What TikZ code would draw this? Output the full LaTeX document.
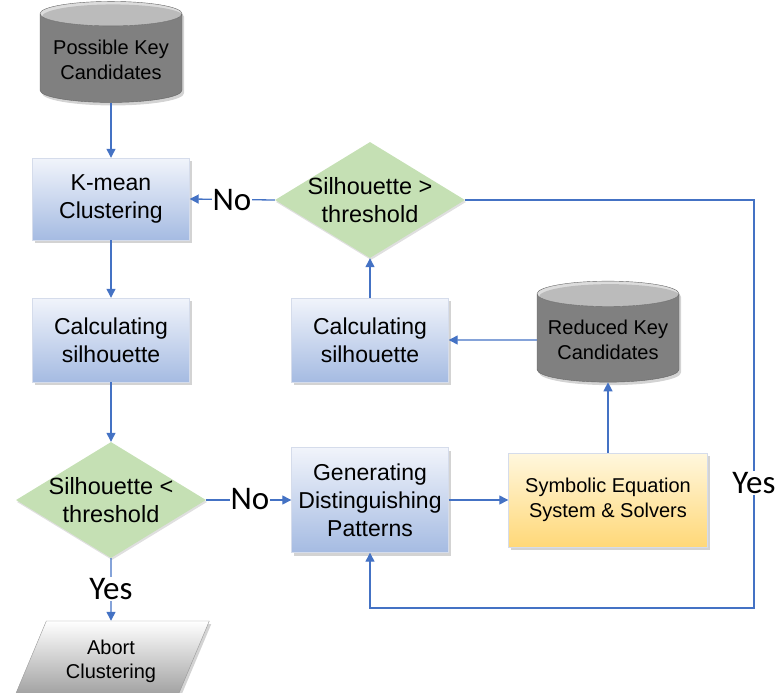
\documentclass[tikz,border=0pt]{standalone}
\usepackage{fontspec}
\setmainfont{Liberation Sans}
\newfontfamily\answerfont{Carlito}
\usetikzlibrary{shapes.geometric,shadows,arrows.meta}

\definecolor{flowblue}{HTML}{4472C4}
\definecolor{proctop}{HTML}{F1F4FB}
\definecolor{procbottom}{HTML}{A5BBE2}
\definecolor{procedge}{HTML}{D5DCEB}
\definecolor{solvetop}{HTML}{FFF7DE}
\definecolor{solvebottom}{HTML}{FFD878}
\definecolor{decidegreen}{HTML}{C5E0B4}
\definecolor{storebody}{HTML}{808080}
\definecolor{storeend}{HTML}{DCDCDC}

\begin{document}
\begin{tikzpicture}[x=1pt,y=-1pt,
  boxshadow/.style={drop shadow={shadow xshift=2pt,shadow yshift=-3pt,opacity=0.35}},
  proc/.style={rectangle,draw=procedge,top color=proctop,bottom color=procbottom,
    align=center,font=\fontsize{23}{28}\selectfont,boxshadow},
  solve/.style={rectangle,draw=procedge,top color=solvetop,bottom color=solvebottom,
    align=center,font=\fontsize{20}{25}\selectfont,boxshadow},
  decide/.style={diamond,fill=decidegreen,inner sep=-9pt,aspect=1.64,minimum width=190pt,
    minimum height=116pt,align=center,font=\fontsize{23.5}{28}\selectfont,
    drop shadow={shadow xshift=1pt,shadow yshift=-2pt,opacity=0.25}},
  store/.style={cylinder,shape border rotate=90,aspect=0.2,draw=black!60,
    cylinder uses custom fill,cylinder body fill=storebody,cylinder end fill=storeend,
    minimum width=142pt,minimum height=101pt,align=center,
    font=\fontsize{20}{25}\selectfont,boxshadow},
  abortbox/.style={trapezium,trapezium left angle=63,trapezium right angle=117,
    trapezium stretches=true,draw=black!40,top color=white,bottom color=black!40,
    minimum width=197pt,minimum height=80pt,align=center,
    font=\fontsize{20}{24}\selectfont,boxshadow},
  flow/.style={draw=flowblue,line width=1.3pt,-{Triangle[length=9pt,width=9pt]}},
  answer/.style={fill=white,inner sep=1pt,font=\answerfont\fontsize{33}{33}\selectfont}]

\useasboundingbox (0,0) rectangle (779,693);
\clip (0,0) rectangle (779,693);

% left column
\node[store] (pkc) at (111,60) {Possible Key\\Candidates};
\node[proc,minimum width=157pt,minimum height=82pt] (kmean) at (111,199) {K-mean\\Clustering};
\node[proc,minimum width=157pt,minimum height=84pt] (calcl) at (111,340) {Calculating\\silhouette};
\node[decide] (dlow) at (111,500) {Silhouette <\\threshold};
\node[abortbox] (abort) at (111,661) {Abort\\Clustering};

% right part
\node[decide] (dhigh) at (370,200) {Silhouette >\\threshold};
\node[proc,minimum width=157pt,minimum height=84pt] (calcr) at (370,340) {Calculating\\silhouette};
\node[store] (rkc) at (608,340) {Reduced Key\\Candidates};
\node[proc,minimum width=157pt,minimum height=105pt] (gen) at (370,500) {Generating\\Distinguishing\\Patterns};
\node[solve,minimum width=199pt,minimum height=94pt] (sym) at (608,500) {Symbolic Equation\\System \& Solvers};

% corners of the Yes loop
\coordinate (loopright) at (754,200);
\coordinate (loopbottom) at (754,608);

% connectors
\draw[flow] (pkc.south) -- (kmean.north);
\draw[flow] (kmean.south) -- (calcl.north);
\draw[flow] (calcl.south) -- (dlow.north);
\draw[flow] (dlow.south) -- (abort.north);
\draw[flow] (dlow.east) -- (gen.west);
\draw[flow] (gen.east) -- (sym.west);
\draw[flow] (sym.north) -- (rkc.south);
\draw[flow] (rkc.west) -- (calcr.east);
\draw[flow] (calcr.north) -- (dhigh.south);
\draw[flow] (dhigh.west) -- (kmean.east);
\draw[flow] (dhigh.east) -- (loopright) -- (loopbottom) -| (gen.south);

% branch labels
\node[answer] (nolow) at (250,499) {No};
\node[answer] (yeslow) at (111,589) {Yes};
\node[answer] (nohigh) at (232,200) {No};
\node[answer] (yeshigh) at (754,483) {Yes};

\end{tikzpicture}
\end{document}
